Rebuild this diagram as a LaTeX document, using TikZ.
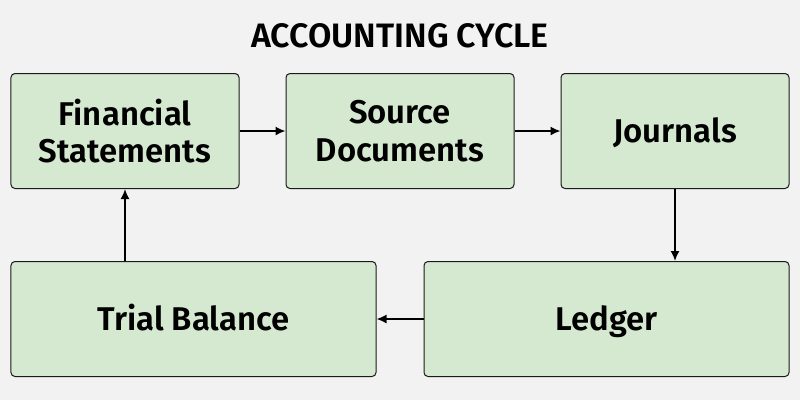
\documentclass[tikz,border=0pt]{standalone}
\usepackage{fontspec}
\setmainfont{Fira Sans}[BoldFont={Fira Sans SemiBold}]
\usepackage{tikz}
\usetikzlibrary{arrows.meta}
\definecolor{pagegray}{HTML}{F2F2F2}
\definecolor{boxgreen}{HTML}{D5E8D0}
\definecolor{boxline}{HTML}{1A1A1A}
\tikzset{stepbox/.style={rectangle, draw=boxline, fill=boxgreen, rounded corners=4bp,
    line width=1bp, minimum height=115bp, align=center,
    font=\fontsize{33}{38}\selectfont\bfseries, text=black}}
\tikzset{oneline/.style={text height=22.7bp, text depth=0bp}}
\tikzset{twoline/.style={}}
\tikzset{flow/.style={draw, line width=1.6bp, -{Latex[length=10bp,width=9bp]}}}

\begin{document}
\begin{tikzpicture}[x=1bp,y=-1bp]
  \fill[pagegray] (0,0) rectangle (800,400);
  \useasboundingbox (0,0) rectangle (800,400);
  \node[font=\fontsize{34}{40}\selectfont\bfseries] (title) at (400,36) {ACCOUNTING CYCLE};
  \foreach \x/\y/\w/\kind/\lab/\txt in {
    125/131/228/twoline/fin/{Financial\\Statements},
    400/131/228/twoline/src/{Source\\Documents},
    675/131/228/oneline/jour/Journals,
    193.5/319/365/oneline/trial/Trial Balance,
    606.5/319/365/oneline/ledg/Ledger%
  } {
    \node[stepbox, \kind, minimum width=\w bp] (\lab) at (\x, \y) {\txt};
  }
  \foreach \u/\v in {
    fin/src,
    src/jour,
    ledg/trial%
  }{
    \draw[flow] (\u) -- (\v);
  }
  \draw[flow] (jour.south) -- (jour.south |- ledg.north);
  \draw[flow] (trial.north -| fin.south) -- (fin.south);
\end{tikzpicture}
\end{document}
